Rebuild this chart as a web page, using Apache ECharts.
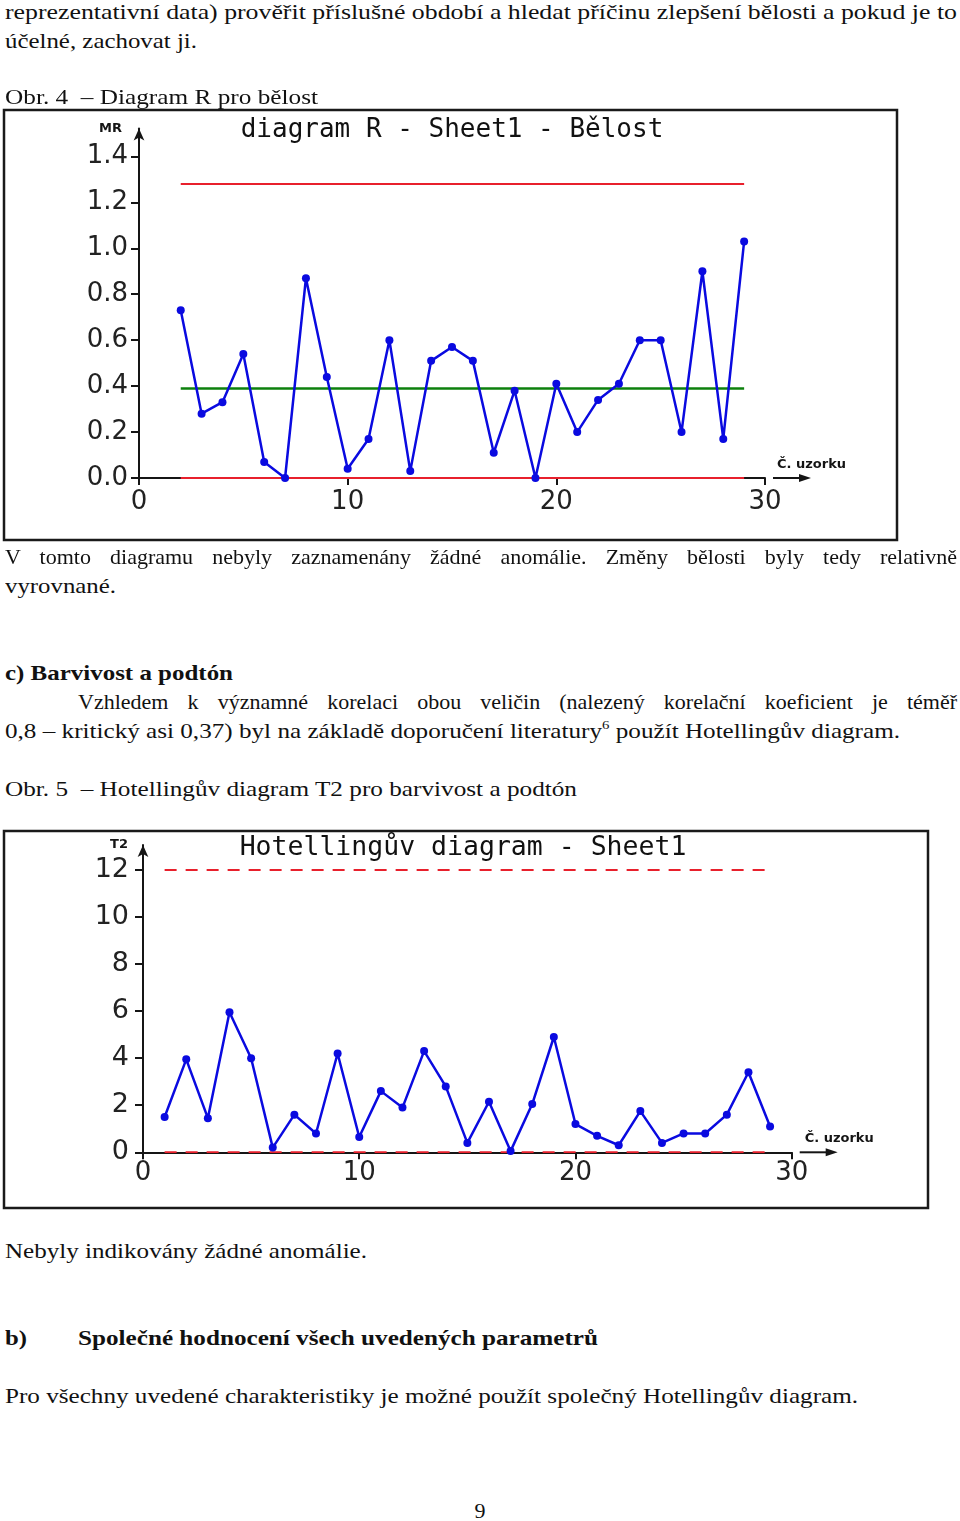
<!DOCTYPE html>
<html><head><meta charset="utf-8">
<script src="https://cdn.jsdelivr.net/npm/echarts@6/dist/echarts.min.js"></script>
<style>
html,body{margin:0;padding:0;background:#fff;}
body{width:960px;height:1521px;position:relative;overflow:hidden;font-family:"Liberation Serif","Times New Roman",serif;color:#111;}
.ln{position:absolute;white-space:pre;font-size:22px;line-height:22px;transform-origin:0 50%;}
.chart{position:absolute;left:0;width:960px;}
</style></head>
<body>
<div id="c1" class="chart" style="top:105px;height:440px"></div>
<div id="c2" class="chart" style="top:825px;height:390px"></div>
<script>
// ---------- Chart 1: diagram R (bělost) ----------
const samplesR = [2,3,4,5,6,7,8,9,10,11,12,13,14,15,16,17,18,19,20,21,22,23,24,25,26,27,28,29];
const valuesR  = [0.73,0.28,0.33,0.54,0.07,0.00,0.87,0.44,0.04,0.17,0.60,0.03,0.51,0.57,0.51,0.11,0.38,0.00,0.41,0.20,0.34,0.41,0.60,0.60,0.20,0.90,0.17,1.03];
const limitsR  = { ucl: 1.28, cl: 0.39, lcl: 0.0, from: 2, to: 29 };
const yTicksR  = [0,0.2,0.4,0.6,0.8,1.0,1.2,1.4];
const xTicks   = [0,10,20,30];

// ---------- Chart 2: Hotellingův diagram T2 ----------
const samplesT = [1,2,3,4,5,6,7,8,9,10,11,12,13,14,15,16,17,18,19,20,21,22,23,24,25,26,27,28,29];
const valuesT  = [1.5,3.95,1.45,5.95,4.0,0.2,1.6,0.8,4.2,0.65,2.6,1.9,4.3,2.8,0.4,2.15,0.05,2.05,4.9,1.2,0.7,0.3,1.75,0.4,0.8,0.8,1.6,3.4,1.1];
const limitsT  = { ucl: 12, lcl: 0, from: 1, to: 29 };
const yTicksT  = [0,2,4,6,8,10,12];

// ---------- page text ----------
function line(html, left, right, cy, opt) {
  opt = opt || {};
  const fs = opt.size || 22;
  const d = document.createElement('div');
  d.className = 'ln';
  d.innerHTML = html;
  d.style.fontSize = fs + 'px';
  d.style.lineHeight = fs + 'px';
  if (opt.bold) d.style.fontWeight = 'bold';
  d.style.left = left + 'px';
  d.style.top = (cy - fs / 2) + 'px';
  document.body.appendChild(d);
  const w = d.getBoundingClientRect().width;
  const target = right - left;
  if (opt.justify && w < target) {
    d.style.whiteSpace = 'normal';
    d.style.width = target + 'px';
    d.style.textAlign = 'justify';
    d.style.textAlignLast = 'justify';
  } else if (!opt.center) {
    d.style.transform = 'scaleX(' + (target / w) + ')';
  }
  if (opt.center) {
    d.style.left = (left - w / 2) + 'px';
  }
}
line('reprezentativní data) prověřit příslušné období a hledat příčinu zlepšení bělosti a pokud je to', 5, 957, 12);
line('účelné, zachovat ji.', 5, 197, 41);
line('Obr. 4  – Diagram R pro bělost', 5, 318, 97);
line('V tomto diagramu nebyly zaznamenány žádné anomálie. Změny bělosti byly tedy relativně', 5, 957, 557, {justify:true});
line('vyrovnané.', 5, 116, 586);
line('c) Barvivost a podtón', 5, 233, 673, {bold:true});
line('Vzhledem k významné korelaci obou veličin (nalezený korelační koeficient je téměř', 78, 957, 702, {justify:true});
line('0,8 – kritický asi 0,37) byl na základě doporučení literatury<span style="font-size:13px;position:relative;top:-9px">6</span> použít Hotellingův diagram.', 5, 900, 731);
line('Obr. 5  – Hotellingův diagram T2 pro barvivost a podtón', 5, 577, 789);
line('Nebyly indikovány žádné anomálie.', 5, 367, 1251);
line('b)', 5, 27, 1338, {bold:true});
line('Společné hodnocení všech uvedených parametrů', 78, 598, 1338, {bold:true});
line('Pro všechny uvedené charakteristiky je možné použít společný Hotellingův diagram.', 5, 858, 1396);
line('9', 480, 480, 1511, {center:true});

// ---------- chart helpers ----------
const BLUE = '#0a0ae0', RED = '#e8202c', GREEN = '#0c800c', INK = '#151515';
const numFont = 'DejaVu Sans';

function baseAxes(o) {
  return {
    xAxis: {
      type: 'value', min: 0, max: 30, interval: 10,
      name: 'Č. uzorku', nameLocation: 'end', nameGap: o.xNameGap,
      nameTextStyle: {fontFamily: 'DejaVu Sans', fontWeight: 'bold', fontSize: 13, color: INK,
                      align: 'left', verticalAlign: 'bottom', padding: [0,0,7,0]},
      axisLine: {lineStyle: {color: INK, width: 2}},
      axisTick: {length: 7, lineStyle: {color: INK, width: 2}, customValues: xTicks},
      axisLabel: {margin: o.xMargin, fontFamily: numFont, fontSize: o.xFont, color: '#222', customValues: xTicks},
      splitLine: {show: false}
    },
    yAxis: {
      type: 'value', min: 0, max: o.yMax, interval: o.yInterval,
      name: o.yName, nameLocation: 'end', nameGap: 0,
      nameTextStyle: {fontFamily: 'DejaVu Sans', fontWeight: 'bold', fontSize: 13, color: INK,
                      align: 'right', verticalAlign: 'middle', padding: [0, o.yNamePad, 0, 0]},
      axisLine: {show: true, lineStyle: {color: INK, width: 2}, symbol: ['none','arrow'], symbolSize: [8, 12]},
      axisTick: {show: true, length: 8, lineStyle: {color: INK, width: 2}, customValues: o.yTicks},
      axisLabel: {margin: o.yMargin, fontFamily: numFont, fontSize: o.yFont, color: '#222',
                  customValues: o.yTicks, formatter: o.yFmt},
      splitLine: {show: false}
    }
  };
}

function addArrow(chart, frame) {
  const p = chart.convertToPixel({xAxisIndex: 0, yAxisIndex: 0}, [30, 0]);
  const x0 = p[0] + 8, x1 = p[0] + 46, y = p[1];
  chart.setOption({
    graphic: [
      {type: 'rect', silent: true, shape: frame, style: {fill: 'none', stroke: '#1a1a1a', lineWidth: 2.5}},
      {type: 'line', silent: true, shape: {x1: x0, y1: y, x2: x1 - 8, y2: y}, style: {stroke: INK, lineWidth: 2}},
      {type: 'polygon', silent: true, shape: {points: [[x1, y], [x1 - 12, y - 4], [x1 - 12, y + 4]]}, style: {fill: INK}}
    ]
  });
}

function limitLine(name, from, to, v, color, type, w) {
  return {
    name: name, type: 'line', data: [[from, v], [to, v]], symbol: 'none', silent: true,
    lineStyle: {color: color, width: w, type: type}, z: 2
  };
}

// ---------- chart 1 ----------
const c1 = echarts.init(document.getElementById('c1'));
const ax1 = baseAxes({xNameGap: 12, xMargin: 11, xFont: 26, yMax: 1.522, yInterval: 0.2, yName: 'MR', yNamePad: 17,
                      yTicks: yTicksR, yMargin: 11, yFont: 26, yFmt: v => v.toFixed(1)});
c1.setOption({
  animation: false,
  title: {text: 'diagram R - Sheet1 - Bělost', left: 452, top: 12, textAlign: 'center', padding: 0,
          textStyle: {fontFamily: 'DejaVu Sans Mono', fontSize: 26, fontWeight: 'normal', color: '#111'}},
  grid: {left: 139, right: 195, top: 23.4, bottom: 67},
  xAxis: ax1.xAxis, yAxis: ax1.yAxis,
  series: [
    limitLine('UCL', limitsR.from, limitsR.to, limitsR.ucl, RED, 'solid', 2),
    limitLine('CL', limitsR.from, limitsR.to, limitsR.cl, GREEN, 'solid', 2.5),
    limitLine('LCL', limitsR.from, limitsR.to, limitsR.lcl, RED, 'solid', 2),
    {name: 'MR', type: 'line', data: samplesR.map((s, i) => [s, valuesR[i]]),
     symbol: 'circle', symbolSize: 8, lineStyle: {color: BLUE, width: 2.5}, itemStyle: {color: BLUE}, z: 3}
  ]
});
addArrow(c1, {x: 4, y: 5, width: 893, height: 430});

// ---------- chart 2 ----------
const c2 = echarts.init(document.getElementById('c2'));
const ax2 = baseAxes({xNameGap: 13, xMargin: 8, xFont: 26, yMax: 13.06, yInterval: 2, yName: 'T2', yNamePad: 15,
                      yTicks: yTicksT, yMargin: 14, yFont: 27, yFmt: v => String(v)});
c2.setOption({
  animation: false,
  title: {text: 'Hotellingův diagram - Sheet1', left: 463, top: 10, textAlign: 'center', padding: 0,
          textStyle: {fontFamily: 'DejaVu Sans Mono', fontSize: 26.5, fontWeight: 'normal', color: '#111'}},
  grid: {left: 143, right: 168.3, top: 20, bottom: 62.7},
  xAxis: ax2.xAxis, yAxis: ax2.yAxis,
  series: [
    limitLine('UCL', limitsT.from, limitsT.to, limitsT.ucl, RED, [12, 9], 2),
    limitLine('LCL', limitsT.from, limitsT.to, limitsT.lcl, RED, [12, 9], 2),
    {name: 'T2', type: 'line', data: samplesT.map((s, i) => [s, valuesT[i]]),
     symbol: 'circle', symbolSize: 8, lineStyle: {color: BLUE, width: 2.5}, itemStyle: {color: BLUE}, z: 3}
  ]
});
addArrow(c2, {x: 4, y: 6, width: 924, height: 377});
</script>
</body></html>
